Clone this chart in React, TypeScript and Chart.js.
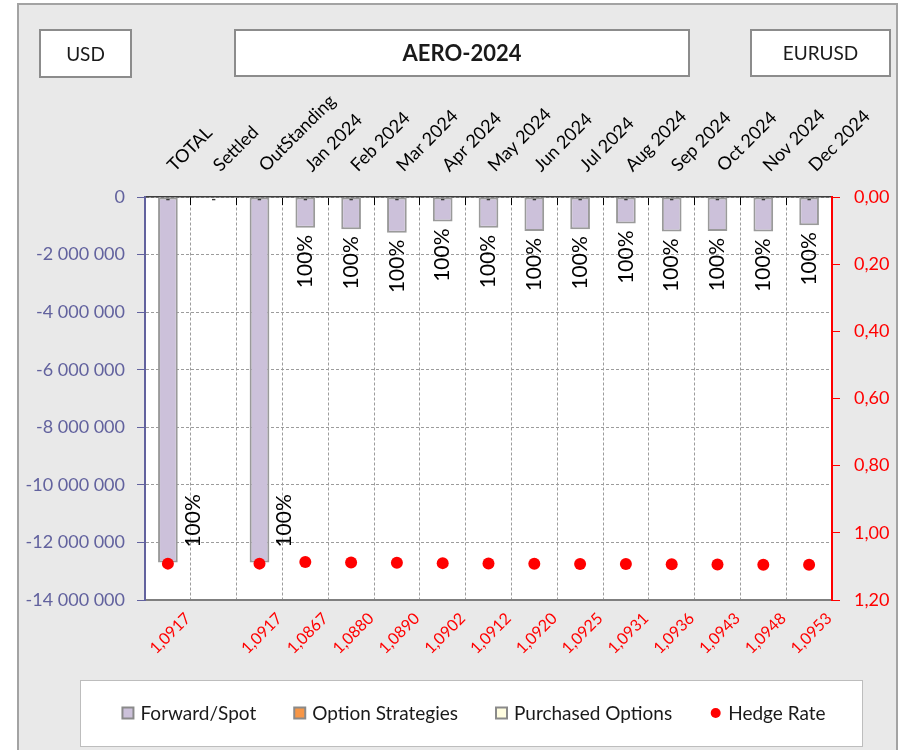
import React, { useEffect, useRef } from 'react';
import { Chart, registerables } from 'chart.js';

Chart.register(...registerables);

// ---------- data ----------
const categories = [
  'TOTAL', 'Settled', 'OutStanding', 'Jan 2024', 'Feb 2024', 'Mar 2024', 'Apr 2024',
  'May 2024', 'Jun 2024', 'Jul 2024', 'Aug 2024', 'Sep 2024', 'Oct 2024', 'Nov 2024', 'Dec 2024',
];
const forwardSpot = [
  -12700000, 0, -12700000, -1070000, -1120000, -1240000, -850000,
  -1070000, -1180000, -1120000, -920000, -1200000, -1180000, -1200000, -980000,
];
const optionStrategies = [0, 0, 0, 0, 0, 0, 0, 0, 0, 0, 0, 0, 0, 0, 0];
const purchasedOptions = [0, 0, 0, 0, 0, 0, 0, 0, 0, 0, 0, 0, 0, 0, 0];
const hedgeRate = [
  1.0917, null, 1.0917, 1.0867, 1.088, 1.089, 1.0902,
  1.0912, 1.092, 1.0925, 1.0931, 1.0936, 1.0943, 1.0948, 1.0953,
];
const rateLabels = [
  '1,0917', '', '1,0917', '1,0867', '1,0880', '1,0890', '1,0902',
  '1,0912', '1,0920', '1,0925', '1,0931', '1,0936', '1,0943', '1,0948', '1,0953',
];
const hedgePct = [
  '100%', null, '100%', '100%', '100%', '100%', '100%',
  '100%', '100%', '100%', '100%', '100%', '100%', '100%', '100%',
];
const leftMin = -14000000;
const leftMax = 0;
const leftStep = 2000000;
const rightMin = 0;
const rightMax = 1.2;
const rightStep = 0.2;
const currencyText = 'USD';
const titleText = 'AERO-2024';
const pairText = 'EURUSD';
const seriesNames = ['Forward/Spot', 'Option Strategies', 'Purchased Options', 'Hedge Rate'];

// ---------- styles ----------
const FONT = 'Lato, "Noto Sans", sans-serif';
const SLATE = '#62629e';
const RED = '#ff0000';
const GRID = '#9c9c9c';

const fmtSpace = (v: number) => {
  const neg = v < 0;
  const s = Math.round(Math.abs(v)).toString().replace(/\B(?=(\d{3})+(?!\d))/g, ' ');
  return (neg ? '-' : '') + s;
};

const framePlugin = {
  id: 'frame',
  beforeDraw(chart: any) {
    const { ctx, chartArea } = chart;
    ctx.save();
    // outer panel
    ctx.fillStyle = '#e9e9e9';
    ctx.fillRect(18, 4, 879, 760);
    ctx.strokeStyle = '#a3a3a3';
    ctx.lineWidth = 2;
    ctx.strokeRect(18, 4, 879, 760);
    // header boxes
    const boxes = [
      { x: 40, y: 30, w: 91, h: 47, t: currencyText, f: `19px ${FONT}` },
      { x: 235, y: 30, w: 454, h: 46, t: titleText, f: `bold 22px ${FONT}` },
      { x: 751, y: 30, w: 139, h: 46, t: pairText, f: `19px ${FONT}` },
    ];
    boxes.forEach((b) => {
      ctx.fillStyle = '#ffffff';
      ctx.fillRect(b.x, b.y, b.w, b.h);
      ctx.strokeStyle = '#8c8c8c';
      ctx.lineWidth = 2;
      ctx.strokeRect(b.x, b.y, b.w, b.h);
      ctx.fillStyle = '#1a1a1a';
      ctx.font = b.f;
      ctx.textAlign = 'center';
      ctx.textBaseline = 'middle';
      ctx.fillText(b.t, b.x + b.w / 2, b.y + b.h / 2 + 1);
    });
    // plot background
    ctx.fillStyle = '#ffffff';
    ctx.fillRect(chartArea.left, chartArea.top, chartArea.right - chartArea.left, chartArea.bottom - chartArea.top);
    ctx.restore();
  },
};

const labelPlugin = {
  id: 'barLabels',
  afterDatasetsDraw(chart: any) {
    const { ctx, chartArea } = chart;
    ctx.save();
    // small "-" labels of the zero-valued option series
    const metaOpt = chart.getDatasetMeta(1);
    ctx.font = `bold 13px ${FONT}`;
    ctx.fillStyle = '#3a3a3a';
    ctx.textAlign = 'center';
    ctx.textBaseline = 'middle';
    metaOpt.data.forEach((el: any, i: number) => {
      if (optionStrategies[i] !== 0) return;
      ctx.fillText('-', el.x, chartArea.top + 2.5);
    });
    // "100%" labels
    const meta = chart.getDatasetMeta(0);
    ctx.font = `21px ${FONT}`;
    ctx.fillStyle = '#000000';
    meta.data.forEach((el: any, i: number) => {
      const txt = hedgePct[i];
      if (!txt) return;
      const { x, y, width } = el.getProps(['x', 'y', 'width'], true);
      const w = ctx.measureText(txt).width;
      let ax = x;
      let ay = y + 7;
      if (ay + w > chartArea.bottom - 2) {
        ax = x + width / 2 + 15;
        ay = y - 15 - w;
      }
      ctx.save();
      ctx.translate(ax, ay);
      ctx.rotate(-Math.PI / 2);
      ctx.textAlign = 'right';
      ctx.textBaseline = 'middle';
      ctx.fillText(txt, 0, 0);
      ctx.restore();
    });
    ctx.restore();
  },
};

const legendPlugin = {
  id: 'boxLegend',
  afterDraw(chart: any) {
    const { ctx } = chart;
    ctx.save();
    const bx = 80, by = 680, bw = 782, bh = 66;
    ctx.fillStyle = '#ffffff';
    ctx.fillRect(bx, by, bw, bh);
    ctx.strokeStyle = '#bdbdbd';
    ctx.lineWidth = 1;
    ctx.strokeRect(bx + 0.5, by + 0.5, bw, bh);
    ctx.font = `19px ${FONT}`;
    const ds = chart.data.datasets;
    const marker = 11, gapText = 7, gapItem = 38;
    const widths = ds.map((d: any) => marker + gapText + ctx.measureText(d.label).width);
    const total = widths.reduce((a: number, b: number) => a + b, 0) + gapItem * (ds.length - 1);
    let x = bx + bw / 2 - total / 2 + 3;
    const cy = by + bh / 2;
    ds.forEach((d: any, i: number) => {
      if (d.type === 'line') {
        ctx.fillStyle = d.pointBackgroundColor;
        ctx.beginPath();
        ctx.arc(x + marker / 2, cy, 5, 0, Math.PI * 2);
        ctx.fill();
      } else {
        ctx.fillStyle = d.backgroundColor;
        ctx.fillRect(x, cy - marker / 2, marker, marker);
        ctx.strokeStyle = '#8a8a8a';
        ctx.lineWidth = 2;
        ctx.strokeRect(x, cy - marker / 2, marker, marker);
      }
      ctx.fillStyle = '#1a1a1a';
      ctx.textAlign = 'left';
      ctx.textBaseline = 'middle';
      ctx.fillText(d.label, x + marker + gapText, cy + 1);
      x += widths[i] + gapItem;
    });
    ctx.restore();
  },
};

export default function App() {
  const ref = useRef<HTMLCanvasElement | null>(null);

  useEffect(() => {
    if (!ref.current) return;
    const chart = new Chart(ref.current, {
      type: 'bar',
      data: {
        labels: categories,
        datasets: [
          {
            type: 'bar',
            label: seriesNames[0],
            data: forwardSpot,
            backgroundColor: '#ccc1da',
            borderColor: '#9a9a9a',
            borderWidth: 2,
            borderSkipped: false,
            xAxisID: 'x',
            yAxisID: 'y',
            stack: 's',
            order: 2,
            categoryPercentage: 1,
            barPercentage: 0.43,
          },
          {
            type: 'bar',
            label: seriesNames[1],
            data: optionStrategies,
            backgroundColor: '#f79646',
            borderColor: '#9a9a9a',
            borderWidth: 0,
            xAxisID: 'x',
            yAxisID: 'y',
            stack: 's',
            order: 2,
            categoryPercentage: 1,
            barPercentage: 0.43,
          },
          {
            type: 'bar',
            label: seriesNames[2],
            data: purchasedOptions,
            backgroundColor: '#fffde0',
            borderColor: '#9a9a9a',
            borderWidth: 0,
            xAxisID: 'x',
            yAxisID: 'y',
            stack: 's',
            order: 2,
            categoryPercentage: 1,
            barPercentage: 0.43,
          },
          {
            type: 'line',
            label: seriesNames[3],
            data: hedgeRate,
            showLine: false,
            pointRadius: 6,
            pointBackgroundColor: RED,
            pointBorderColor: RED,
            pointBorderWidth: 0,
            borderColor: RED,
            backgroundColor: RED,
            xAxisID: 'x',
            yAxisID: 'y2',
            order: 0,
          },
        ] as any,
      },
      options: {
        animation: false,
        responsive: false,
        devicePixelRatio: 1,
        layout: { padding: 0, autoPadding: false },
        plugins: {
          legend: { display: false },
          tooltip: { enabled: false },
          title: { display: false },
        },
        scales: {
          x: {
            type: 'category',
            position: 'top',
            stacked: true,
            offset: true,
            grid: {
              color: GRID,
              lineWidth: 1,
              offset: true,
              tickLength: -8,
              tickColor: '#000000',
              tickWidth: 1,
            },
            border: { color: '#3c3c3c', width: 1.5, dash: [3, 2] },
            ticks: {
              color: '#000000',
              font: { family: FONT, size: 18 },
              minRotation: 45,
              maxRotation: 45,
              autoSkip: false,
              padding: 29,
              labelOffset: 18,
            },
            afterFit: (s: any) => { s.height = 197; },
          },
          x2: {
            type: 'category',
            position: 'bottom',
            labels: rateLabels,
            offset: true,
            grid: { display: false, drawTicks: false, offset: true },
            border: { color: '#7f7f7f', width: 2 },
            ticks: {
              color: RED,
              font: { family: FONT, size: 16 },
              minRotation: 45,
              maxRotation: 45,
              autoSkip: false,
              padding: 9,
              labelOffset: 20,
            },
            afterFit: (s: any) => { s.height = 150; },
          },
          y: {
            type: 'linear',
            position: 'left',
            stacked: true,
            min: leftMin,
            max: leftMax,
            ticks: {
              stepSize: leftStep,
              color: SLATE,
              font: { family: FONT, size: 18 },
              padding: 12,
              callback: (v: any) => fmtSpace(Number(v)),
            },
            grid: { color: GRID, lineWidth: 1, tickColor: SLATE, tickLength: 8, tickWidth: 1 },
            border: { color: SLATE, width: 2, dash: [3, 2] },
            afterFit: (s: any) => { s.width = 145; },
          },
          y2: {
            type: 'linear',
            position: 'right',
            reverse: true,
            min: rightMin,
            max: rightMax,
            ticks: {
              stepSize: rightStep,
              color: RED,
              font: { family: FONT, size: 18 },
              padding: 14,
              callback: (v: any) => Number(v).toFixed(2).replace('.', ','),
            },
            grid: { drawOnChartArea: false, tickColor: RED, tickLength: 8, tickWidth: 1 },
            border: { color: RED, width: 2 },
            afterFit: (s: any) => { s.width = 68; },
          },
        },
      } as any,
      plugins: [framePlugin, labelPlugin, legendPlugin],
    });
    return () => chart.destroy();
  }, []);

  return (
    <div style={{ position: 'absolute', left: 0, top: 0, width: 900, height: 750, overflow: 'hidden', background: '#ffffff' }}>
      <canvas ref={ref} width={900} height={750} style={{ display: 'block', width: 900, height: 750 }} />
    </div>
  );
}
